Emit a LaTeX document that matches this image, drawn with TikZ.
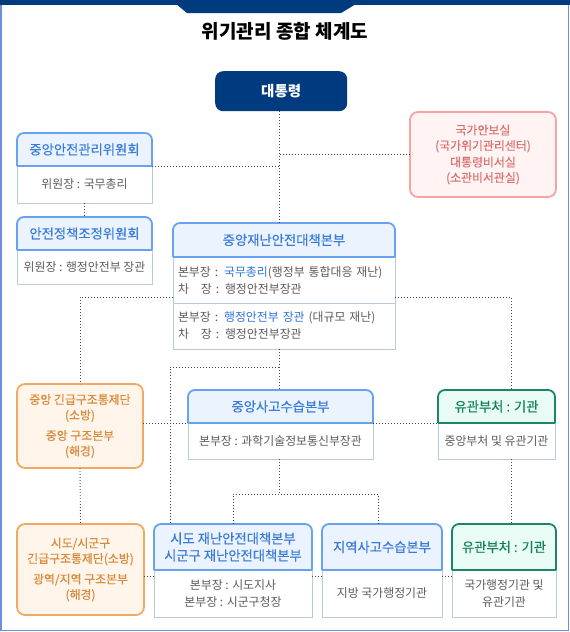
\documentclass[tikz,border=0pt]{standalone}
\usepackage{fontspec}
\setmainfont{Noto Sans CJK KR}
\newfontfamily\medfont{Noto Sans CJK KR}[FakeBold=0.3]
\usetikzlibrary{positioning,backgrounds}

\definecolor{navy}{HTML}{003B80}
\definecolor{framec}{HTML}{6F8DD8}
\definecolor{hdline}{HTML}{66A1F2}
\definecolor{hdfill}{HTML}{EAF3FF}
\definecolor{hdtext}{HTML}{3A7BD8}
\definecolor{bodyline}{HTML}{BCCADC}
\definecolor{bodytext}{HTML}{5C5C5C}
\definecolor{keytext}{HTML}{2D74DA}
\definecolor{pinkline}{HTML}{F5A3A3}
\definecolor{pinkfill}{HTML}{FFF4F3}
\definecolor{pinktext}{HTML}{D9716F}
\definecolor{orgline}{HTML}{F2AA62}
\definecolor{orgfill}{HTML}{FFF5EB}
\definecolor{orgtext}{HTML}{DA8A3C}
\definecolor{grnline}{HTML}{19866A}
\definecolor{grnfill}{HTML}{E8FCF5}
\definecolor{grntext}{HTML}{13805C}
\definecolor{linkc}{HTML}{444444}

\tikzset{%
  head/.style = {rectangle, outer sep=0pt, inner sep=2pt, align=center,%
                 font=\medfont\fontsize{13.3}{17}\selectfont, text=hdtext},%
  body/.style = {rectangle, draw=bodyline, fill=white, line width=0.9pt,%
                 outer sep=0pt, inner sep=3pt, align=center,%
                 font=\fontsize{11.9}{17}\selectfont, text=bodytext},%
  note/.style = {rectangle, rounded corners=8pt, line width=1.8pt,%
                 outer sep=0pt, align=center,%
                 font=\medfont\fontsize{11.9}{15.5}\selectfont},%
  link/.style = {draw=linkc, line width=0.9pt, dash pattern=on 0.9pt off 2.1pt}%
}

% header of a panel: top corners rounded, bottom edge straight
\newcommand\headdeco[3]{%
  \begin{pgfonlayer}{background}
    \fill[#3, rounded corners=7pt] (#1.south west) rectangle (#1.north east);
    \fill[#3] (#1.south west) rectangle (#1.east);
  \end{pgfonlayer}
  \draw[#2, line width=1.8pt, rounded corners=7pt]
    (#1.south west) |- (#1.north) -| (#1.south east);
  \draw[#2, line width=1.8pt] (#1.south west) -- (#1.south east);
}
\newcommand\chajang{차\hspace{1em}장}

\begin{document}
\begin{tikzpicture}[x=1pt, y=-1pt]
	\useasboundingbox (0,0) rectangle (570,632);
	% frame and title
	\draw[framec, line width=1.5pt] (0.75,4) rectangle (568.5,630.5);
	\fill[navy] (0,0) rectangle (570,5);
	\fill[navy] (176,4) -- (187,13) -- (341,13) -- (356,4) -- cycle;
	\node[font=\bfseries\fontsize{19}{22}\selectfont] (title) at (285,31) {위기관리 종합 체계도};
	\coordinate (spine) at (279,0);
	\coordinate (rline) at (511,0);
	\coordinate (cfork) at (279,367);
	\coordinate (dfork) at (279,494);
	% top
	\node[rectangle, rounded corners=8pt, fill=navy, text=white, anchor=north west,%
	      font=\bfseries\fontsize{14.5}{17}\selectfont, minimum width=132pt, minimum height=40pt]%
	      (pres) at (215,71) {대통령};
	\node[head, minimum width=135pt, minimum height=33pt, anchor=north west] (ah) at (17,133) {중앙안전관리위원회};
	\node[body, minimum width=135pt, minimum height=37pt, below=0pt of ah] (ab) {위원장 : 국무총리};
	\node[head, minimum width=135pt, minimum height=33pt, anchor=north west] (bh) at (17,217) {안전정책조정위원회};
	\node[body, minimum width=135pt, minimum height=34pt, below=0pt of bh] (bb) {위원장 : 행정안전부 장관};
	\node[note, draw=pinkline, fill=pinkfill, text=pinktext, minimum width=146pt, minimum height=85pt,%
	      anchor=north west] (nsc) at (410,112)%
	      {국가안보실\\(국가위기관리센터)\\[1pt]대통령비서실\\(소관비서관실)};
	% central headquarters
	\node[head, minimum width=222pt, minimum height=34pt, anchor=north west] (ch) at (173,223) {중앙재난안전대책본부};
	\node[body, text width=212pt, inner xsep=5pt, align=left, minimum height=46pt, below=0pt of ch] (cb1)%
	      {본부장 : \textcolor{keytext}{국무총리}(행정부 통합대응 재난)\\\chajang{} : 행정안전부장관};
	\node[body, text width=212pt, inner xsep=5pt, align=left, minimum height=46pt, below=0pt of cb1] (cb2)%
	      {본부장 : \textcolor{keytext}{행정안전부 장관} (대규모 재난)\\\chajang{} : 행정안전부장관};
	% middle row
	\node[note, draw=orgline, fill=orgfill, text=orgtext, minimum width=126pt, minimum height=84pt,%
	      anchor=north west] (rsc1) at (17,384)%
	      {중앙 긴급구조통제단\\(소방)\\[5pt]중앙 구조본부\\(해경)};
	\node[head, minimum width=185pt, minimum height=33pt, anchor=north west] (dh) at (188,390) {중앙사고수습본부};
	\node[body, minimum width=185pt, minimum height=36pt, below=0pt of dh] (db) {본부장 : 과학기술정보통신부장관};
	\node[head, text=grntext, minimum width=117pt, minimum height=33pt, anchor=north west] (gh1) at (438,390) {유관부처 : 기관};
	\node[body, minimum width=117pt, minimum height=36pt, below=0pt of gh1] (gb1) {중앙부처 및 유관기관};
	% bottom row
	\node[note, draw=orgline, fill=orgfill, text=orgtext, minimum width=127pt, minimum height=91pt,%
	      anchor=north west] (rsc2) at (17,524)%
	      {시도/시군구\\긴급구조통제단(소방)\\[5pt]광역/지역 구조본부\\(해경)};
	\node[head, minimum width=158pt, minimum height=46pt, anchor=north west] (eh) at (154,524)%
	      {시도 재난안전대책본부\\시군구 재난안전대책본부};
	\node[body, minimum width=158pt, minimum height=47pt, below=0pt of eh] (eb) {본부장 : 시도지사\\본부장 : 시군구청장};
	\node[head, minimum width=120pt, minimum height=46pt, anchor=north west] (fh) at (322,524) {지역사고수습본부};
	\node[body, minimum width=120pt, minimum height=47pt, below=0pt of fh] (fb) {지방 국가행정기관};
	\node[head, text=grntext, minimum width=104pt, minimum height=46pt, anchor=north west] (gh2) at (452,524) {유관부처 : 기관};
	\node[body, minimum width=104pt, minimum height=47pt, below=0pt of gh2] (gb2) {국가행정기관 및\\유관기관};
	% headers
	\foreach \h in {ah,bh,ch,dh,eh,fh} {\headdeco{\h}{hdline}{hdfill}}
	\foreach \h in {gh1,gh2} {\headdeco{\h}{grnline}{grnfill}}
	% connectors
	\draw[link] (pres.south -| spine) -- (ch.north -| spine);
	\draw[link] (ah.south east) -- (ah.south east -| spine);
	\draw[link] (nsc.west) -- (nsc.west -| spine);
	\draw[link] (ab.south) -- (bh.north);
	\draw[link] ([yshift=6pt]cb1.south west) -| (rsc1.north);
	\draw[link] ([yshift=6pt]cb1.south east) -| (gh1.north -| rline);
	\draw[link] (cb2.south -| spine) -- (dh.north -| spine);
	\draw[link] (cfork) -| ([xshift=16pt]eh.north west);
	\draw[link] (rsc1.east |- dh.south) -- (dh.south west);
	\draw[link] (dh.south east) -- (gh1.south west);
	\draw[link] (rsc1.south) -- (rsc2.north);
	\draw[link] (db.south -| spine) -- (dfork);
	\draw[link] (eh.north) |- (dfork) -| ([xshift=-4pt]fh.north);
	\draw[link] (gb1.south -| rline) -- (gh2.north -| rline);
	\draw[link] ([yshift=-6pt]eb.north west) -- ([yshift=-6pt]eb.north west -| rsc2.east);
	\draw[link] ([yshift=-6pt]eb.north east) -- ([yshift=-6pt]fb.north west);
	\draw[link] ([yshift=-6pt]fb.north east) -- ([yshift=-6pt]gb2.north west);
\end{tikzpicture}
\end{document}
